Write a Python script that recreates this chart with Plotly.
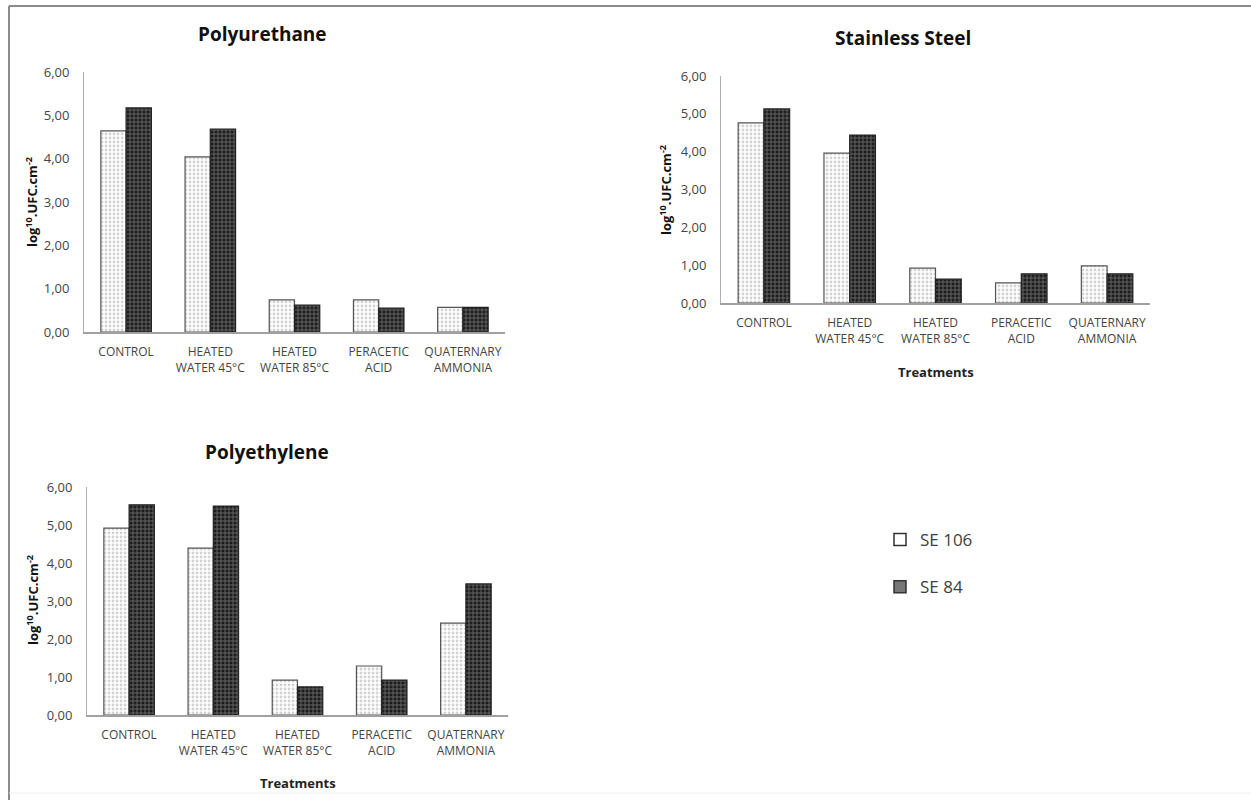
import plotly.graph_objects as go

W, H = 1251, 800

categories = ["CONTROL", "HEATED<br>WATER 45°C", "HEATED<br>WATER 85°C", "PERACETIC<br>ACID", "QUATERNARY<br>AMMONIA"]
series_names = ["SE 106", "SE 84"]

polyurethane_se106 = [4.64, 4.04, 0.74, 0.74, 0.57]
polyurethane_se84 = [5.17, 4.68, 0.62, 0.55, 0.57]
steel_se106 = [4.76, 3.96, 0.92, 0.53, 0.98]
steel_se84 = [5.13, 4.44, 0.63, 0.77, 0.77]
polyethylene_se106 = [4.92, 4.39, 0.92, 1.29, 2.42]
polyethylene_se84 = [5.53, 5.50, 0.74, 0.92, 3.45]

y_ticks = [0, 1, 2, 3, 4, 5, 6]

def px(x):
    return x / W

def py(y):
    return 1 - y / H

panels = [
    dict(name="Polyurethane", a=polyurethane_se106, b=polyurethane_se84, xd=[84, 505], yd=[332, 72],
         title=(262, 34), ytitle=(32, 202), treat=None),
    dict(name="Stainless Steel", a=steel_se106, b=steel_se84, xd=[721, 1150], yd=[303, 76],
         title=(903, 38), ytitle=(665, 190), treat=372),
    dict(name="Polyethylene", a=polyethylene_se106, b=polyethylene_se84, xd=[87, 508], yd=[715, 487],
         title=(267, 452), ytitle=(32, 600), treat=783),
]

fig = go.Figure()
annotations = []
font_fam = "Open Sans, Liberation Sans, sans-serif"

style_a = dict(color="white", line=dict(color="#555555", width=1.2),
               pattern=dict(shape=".", fgcolor="#a8a8a8", bgcolor="white", size=4, solidity=0.4))
style_b = dict(color="#222222", line=dict(color="#222222", width=1.2),
               pattern=dict(shape="+", fgcolor="#e0e0e0", bgcolor="#1e1e1e", size=4, solidity=0.3))

for i, p in enumerate(panels):
    n = "" if i == 0 else str(i + 1)
    xa, ya = "x" + n, "y" + n
    fig.add_trace(go.Bar(x=categories, y=p["a"], name=series_names[0], marker=style_a,
                         xaxis=xa, yaxis=ya, showlegend=False))
    fig.add_trace(go.Bar(x=categories, y=p["b"], name=series_names[1], marker=style_b,
                         xaxis=xa, yaxis=ya, showlegend=False))
    fig.update_layout(**{
        "xaxis" + n: dict(domain=[px(p["xd"][0]), px(p["xd"][1])], anchor=ya, showline=True,
                          linecolor="#a0a0a0", linewidth=1.8, showgrid=False, ticks="outside",
                          tickcolor="rgba(0,0,0,0)", ticklen=8, tickangle=0,
                          tickfont=dict(family=font_fam, size=12, color="#444444"), fixedrange=True),
        "yaxis" + n: dict(domain=[py(p["yd"][0]), py(p["yd"][1])], anchor=xa, range=[0, 6],
                          tickvals=y_ticks, tickformat=".2f", showline=True, linecolor="#b0b0b0",
                          linewidth=1, showgrid=False, zeroline=False, ticks="outside",
                          tickcolor="rgba(0,0,0,0)", ticklen=11,
                          tickfont=dict(family=font_fam, size=13, color="#444444"), fixedrange=True),
    })
    annotations.append(dict(text="<b>%s</b>" % p["name"], x=px(p["title"][0]), y=py(p["title"][1]),
                            xref="paper", yref="paper", showarrow=False,
                            font=dict(family=font_fam, size=19, color="#111111"),
                            xanchor="center", yanchor="middle"))
    annotations.append(dict(text="<b>log<sup>10</sup>.UFC.cm<sup>-2</sup></b>", x=px(p["ytitle"][0]),
                            y=py(p["ytitle"][1]), xref="paper", yref="paper", showarrow=False,
                            textangle=-90, font=dict(family=font_fam, size=13, color="#111111"),
                            xanchor="center", yanchor="middle"))
    if p["treat"]:
        xc = (p["xd"][0] + p["xd"][1]) / 2
        annotations.append(dict(text="<b>Treatments</b>", x=px(xc), y=py(p["treat"]),
                                xref="paper", yref="paper", showarrow=False,
                                font=dict(family=font_fam, size=13, color="#222222"),
                                xanchor="center", yanchor="middle"))

# legend-only traces on a hidden axis pair
fig.add_trace(go.Bar(x=[None], y=[None], name=series_names[0], xaxis="x4", yaxis="y4",
                     marker=dict(color="white", line=dict(color="#333333", width=1.5)),
                     legendgroup="a", showlegend=True))
fig.add_trace(go.Bar(x=[None], y=[None], name=series_names[1], xaxis="x4", yaxis="y4",
                     marker=dict(color="#777777", line=dict(color="#333333", width=1.5)),
                     legendgroup="b", showlegend=True))

border = dict(color="#8a8a8a", width=2)
fig.update_layout(
    xaxis4=dict(domain=[0.8, 0.81], anchor="y4", visible=False),
    yaxis4=dict(domain=[0.2, 0.21], anchor="x4", visible=False),
    width=W, height=H, margin=dict(l=0, r=0, t=0, b=0, pad=0, autoexpand=False),
    paper_bgcolor="white", plot_bgcolor="white",
    barmode="group", bargap=0.4, bargroupgap=0,
    separators=",.",
    annotations=annotations,
    showlegend=True,
    legend=dict(x=px(880), y=py(522), xanchor="left", yanchor="top", traceorder="grouped",
                tracegroupgap=22, itemwidth=30, font=dict(family=font_fam, size=17, color="#404040"),
                bgcolor="rgba(0,0,0,0)"),
    shapes=[
        dict(type="line", xref="paper", yref="paper", x0=px(9), x1=1, y0=py(6), y1=py(6), line=border),
        dict(type="line", xref="paper", yref="paper", x0=px(9), x1=px(9), y0=py(6), y1=0, line=border),
        dict(type="line", xref="paper", yref="paper", x0=px(9), x1=1, y0=py(793), y1=py(793),
             line=dict(color="#ececec", width=1)),
    ],
)

post = ("document.documentElement.style.margin='0';document.body.style.margin='0';"
        "document.body.style.overflow='hidden';")

fig.write_html("out.html", config={"displayModeBar": False}, post_script=post)
